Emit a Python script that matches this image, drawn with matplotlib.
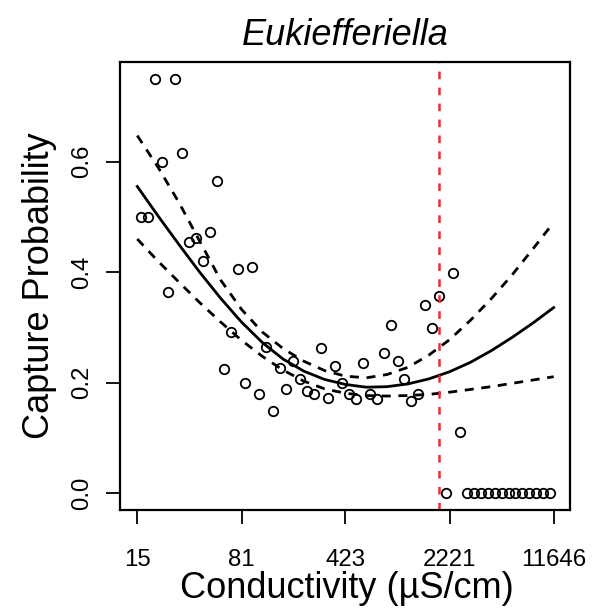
import numpy as np
import matplotlib
matplotlib.use("Agg")
import matplotlib.pyplot as plt

plt.rcParams["font.family"] = ["Liberation Sans", "DejaVu Sans"]
plt.rcParams["lines.scale_dashes"] = False

# capture probability per conductivity bin (uS/cm)
conductivity = [16.27, 18.17, 20.29, 22.66, 25.31, 28.27, 31.57, 35.26, 39.38, 43.98,
                49.11, 54.85, 61.26, 68.41, 76.40, 85.33, 95.29, 106.4, 118.9, 132.7,
                148.2, 165.6, 184.9, 206.5, 230.6, 257.5, 287.6, 321.2, 358.7, 400.6,
                447.4, 499.7, 558.0, 623.2, 696.0, 777.3, 868.1, 969.5, 1082.7, 1209.2,
                1350.4, 1508.2, 1684.3, 1881.1, 2100.8, 2346.2, 2620.3, 2926.4, 3268.2, 3650.0,
                4076.3, 4552.5, 5084.3, 5678.2, 6341.5, 7082.2, 7909.5, 8833.4, 9865.2, 11017.5]
capture_prob = [0.500, 0.500, 0.750, 0.599, 0.364, 0.750, 0.615, 0.454, 0.461, 0.421,
                0.473, 0.565, 0.225, 0.291, 0.405, 0.200, 0.410, 0.179, 0.264, 0.149,
                0.227, 0.188, 0.240, 0.206, 0.186, 0.180, 0.263, 0.173, 0.231, 0.200,
                0.180, 0.170, 0.235, 0.180, 0.171, 0.254, 0.304, 0.240, 0.206, 0.167,
                0.179, 0.341, 0.299, 0.357, 0.0, 0.399, 0.111, 0.0, 0.0, 0.0,
                0.0, 0.0, 0.0, 0.0, 0.0, 0.0, 0.0, 0.0, 0.0, 0.0]

# fitted curve and confidence band
fit_cond = [15.4, 21.4, 29.9, 41.6, 58.0, 80.8, 112.5, 156.7, 218.3, 304.1, 423.6,
            590.1, 822.0, 1145, 1595, 2222, 3095, 4311, 6005, 8365, 11646]
fit_mid = [0.555, 0.502, 0.450, 0.400, 0.353, 0.310, 0.273, 0.243, 0.221, 0.206, 0.197,
           0.192, 0.193, 0.198, 0.207, 0.220, 0.237, 0.258, 0.282, 0.308, 0.336]
fit_upper = [0.647, 0.590, 0.526, 0.456, 0.386, 0.333, 0.292, 0.262, 0.239, 0.222, 0.212,
             0.209, 0.215, 0.228, 0.250, 0.278, 0.313, 0.352, 0.395, 0.442, 0.490]
fit_lower = [0.460, 0.420, 0.382, 0.345, 0.310, 0.277, 0.248, 0.223, 0.203, 0.189, 0.181,
             0.177, 0.176, 0.177, 0.179, 0.183, 0.188, 0.193, 0.199, 0.205, 0.211]

threshold = 1880

xtick_pos = [15.4, 81, 423, 2221, 11646]
xtick_labels = ["15", "81", "423", "2221", "11646"]
ytick_pos = [0.0, 0.2, 0.4, 0.6]
ytick_labels = ["0.0", "0.2", "0.4", "0.6"]

fig = plt.figure(figsize=(5.93, 6.10), dpi=100)
ax = fig.add_axes([120 / 593, 1 - 510 / 610, 450 / 593, 448 / 610])

ax.plot(conductivity, capture_prob, linestyle="none", marker="o", markersize=6.8,
        markerfacecolor="none", markeredgecolor="black", markeredgewidth=1.3)
ax.plot(fit_cond, fit_mid, color="black", lw=2.0)
ax.plot(fit_cond, fit_upper, color="black", lw=2.0, linestyle=(0, (6.5, 5.5)))
ax.plot(fit_cond, fit_lower, color="black", lw=2.0, linestyle=(0, (6.5, 5.5)))
ax.axvline(threshold, color="#ee2b30", lw=1.8, linestyle=(0, (5.5, 6)))

ax.set_xscale("log")
ax.set_xlim(11.7, 15100)
ax.set_ylim(-0.03, 0.78)
ax.minorticks_off()
ax.set_xticks(xtick_pos)
ax.set_xticklabels(xtick_labels)
ax.set_yticks(ytick_pos)
ax.set_yticklabels(ytick_labels, rotation=90, va="center")

ax.tick_params(axis="both", length=10.4, width=1.3, labelsize=17.3, color="black")
ax.tick_params(axis="x", pad=18)
ax.tick_params(axis="y", pad=9)
for s in ax.spines.values():
    s.set_linewidth(1.6)

fig.text(345 / 593, 1 - 45 / 610, "Eukiefferiella", ha="center", va="baseline",
         fontsize=26, style="italic")
fig.text(347 / 593, 1 - 598 / 610, "Conductivity (\u00b5S/cm)", ha="center",
         va="baseline", fontsize=26)
fig.text(40 / 593, 1 - 286 / 610, "Capture Probability", ha="center", va="center",
         rotation=90, fontsize=26)

fig.savefig("out.png", dpi=100)
